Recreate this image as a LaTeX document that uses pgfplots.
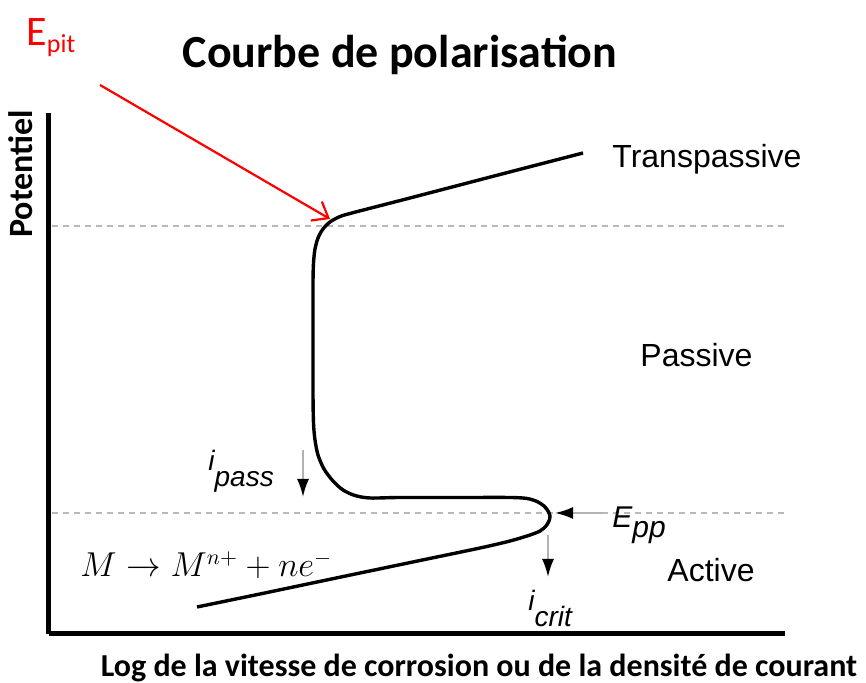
\documentclass[border=0pt]{standalone}
\usepackage{fontspec}
\setmainfont{Carlito}
\newfontfamily\arialf{Liberation Sans}
\usepackage{pgfplots}
\pgfplotsset{compat=1.18}
\usetikzlibrary{arrows.meta}

% courbe de polarisation (coordonnees en pixels, y vers le haut)
\pgfplotstableread{
x y
197 76
260 89
340 105.8
420 122.5
480 135
510 142
530 148
540 152
546 157
549 162
550 167
548 172
544 177
537 181.5
527 184.5
510 185.5
460 185.5
400 185.5
370 185
355 187.5
343 193
333 202
324 214
318 228
315 243
313.5 260
313 290
313 350
313 400
313.5 420
315 434
318 445
323 454
330 461
339 466
350 469.5
410 485
500 508.5
583 530
}\courbe

\begin{document}
\begin{tikzpicture}
\begin{axis}[
    x=0.5pt, y=0.5pt,
    xmin=49, xmax=785, ymin=49, ymax=570,
    axis x line=bottom, axis y line=left,
    axis line style={-, line width=2.5pt},
    ticks=none,
    clip=false,
]
  % cadre de la page
  \path (axis cs:0,0) rectangle (axis cs:866,683);

  % lignes pointillees
  \addplot[gray!55, line width=1.1pt, dash pattern=on 3pt off 2.5pt] coordinates {(52,457) (785,457)};
  \addplot[gray!55, line width=1.1pt, dash pattern=on 3pt off 2.5pt] coordinates {(52,170) (785,170)};

  \addplot[black, line width=1.7pt, smooth, tension=0.5] table {\courbe};

  % fleches
  \draw[gray!60, line width=1pt, -{Latex[black, length=9pt, width=6pt]}] (axis cs:303,233) -- (axis cs:303,186);
  \draw[gray!60, line width=1pt, -{Latex[black, length=9pt, width=6pt]}] (axis cs:603,170) -- (axis cs:555,170);
  \draw[gray!60, line width=1pt, -{Latex[black, length=9pt, width=6pt]}] (axis cs:548,148) -- (axis cs:548,106);
  \draw[red, line width=1.1pt, -{Straight Barb[length=7pt, width=11pt]}] (axis cs:100,598) -- (axis cs:330,464);

  % textes
  \node[anchor=base, font=\bfseries\fontsize{23}{27}\selectfont] at (axis cs:400,615) {Courbe de polarisation};
  \node[anchor=base west, red, inner sep=0pt, font=\fontsize{21}{25}\selectfont] at (axis cs:26,637)
    {E\raisebox{-0.3ex}{\fontsize{13}{15}\selectfont pit}};
  \node[anchor=base, rotate=90, inner sep=0pt, font=\bfseries\fontsize{17}{20}\selectfont] at (axis cs:33,509) {Potentiel};
  \node[anchor=base, inner sep=0pt, font=\bfseries\fontsize{16}{19}\selectfont] at (axis cs:479,6)
    {Log de la vitesse de corrosion ou de la densité de courant};

  \node[anchor=base west, inner sep=0pt, font=\arialf\fontsize{16}{19}\selectfont] at (axis cs:612,515) {Transpassive};
  \node[anchor=base west, inner sep=0pt, font=\arialf\fontsize{16}{19}\selectfont] at (axis cs:640,316) {Passive};
  \node[anchor=base west, inner sep=0pt, font=\arialf\fontsize{16}{19}\selectfont] at (axis cs:667,101) {Active};

  \node[anchor=base west, inner sep=0pt, font=\fontsize{16}{19}\selectfont] at (axis cs:80,106)
    {$M \rightarrow M^{n+} + ne^{-}$};
  \node[anchor=base west, inner sep=0pt, font=\arialf\itshape\fontsize{14}{17}\selectfont] at (axis cs:208,196)
    {\raisebox{1.1ex}{i}pass};
  \node[anchor=base west, inner sep=0pt, font=\arialf\itshape\fontsize{15}{18}\selectfont] at (axis cs:612,155)
    {E\raisebox{-0.6ex}{pp}};
  \node[anchor=base west, inner sep=0pt, font=\arialf\itshape\fontsize{14}{17}\selectfont] at (axis cs:528,56)
    {\raisebox{1.1ex}{i}crit};
\end{axis}
\end{tikzpicture}
\end{document}
